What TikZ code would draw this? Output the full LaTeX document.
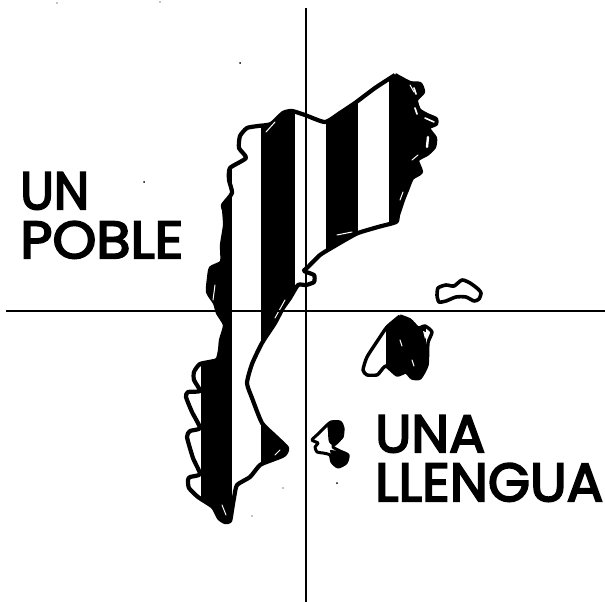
\documentclass[tikz,border=0pt]{standalone}
\usepackage{fontspec}
\setmainfont{Poppins}[FakeBold=3.5]
\usepackage{graphicx}
\def\mainland{(395,75) (410,83) (420,84) (423,92) (416,100) (419,110) (427,115) (436,119) (436,124) (428,128) (435,138) (434,147) (427,154) (417,160) (421,172) (412,178) (407,190) (403,200) (398,215) (396,222) (378,227) (358,233) (345,240) (333,247) (320,255) (308,267) (304,271) (314,275) (314,282) (306,285) (298,285) (290,298) (283,308) (275,323) (262,343) (252,364) (247,383) (252,398) (262,423) (275,436) (287,448) (284,455) (272,460) (260,465) (250,477) (237,485) (234,498) (232,510) (230,521) (225,522) (219,518) (213,507) (198,497) (189,488) (188,480) (190,477) (200,474) (193,458) (187,437) (190,431) (200,428) (192,412) (186,397) (188,392) (200,391) (194,380) (194,372) (200,364) (217,360) (220,350) (221,340) (225,325) (218,313) (215,303) (208,292) (209,278) (211,268) (222,262) (222,245) (225,225) (224,210) (223,205) (232,193) (229,180) (230,168) (246,158) (239,148) (240,136) (247,128) (258,126) (271,124) (283,113) (292,111) (305,115) (325,122) (340,113) (355,103) (375,88) (395,75)}
\def\mallorca{(400,316) (410,320) (418,328) (425,326) (432,332) (428,343) (427,365) (420,378) (412,378) (406,372) (397,375) (386,366) (380,372) (377,375) (367,375) (363,370) (367,357) (378,340) (387,327) (400,316)}
\def\menorca{(437,296) (438,288) (446,285) (454,286) (462,280) (470,283) (478,289) (481,293) (479,299) (474,301) (466,297) (456,297) (446,301) (439,302) (437,296)}
\def\ibiza{(325,427) (331,422) (340,422) (343,428) (342,437) (335,442) (333,447) (340,451) (348,455) (346,463) (338,467) (332,462) (330,455) (323,453) (317,452) (315,447) (318,443) (312,440) (318,434) (325,427)}
\tikzset{
  coast/.style={draw=black,line width=4.2pt,line join=round},
  axis/.style={draw=black,line width=2.2pt},
  band/.style={fill=black},
  fleck/.style={draw=white,line width=1pt,line cap=round},
  speck/.style={fill=black,inner sep=0pt,minimum size=2pt,circle},
  word/.style={anchor=north west,inner sep=0pt,text=black}
}
\begin{document}
\begin{tikzpicture}[x=1pt,y=-1pt]
\useasboundingbox (0,0) rectangle (605,602);
\fill[white] (0,0) rectangle (605,602);
% mainland stripes
\begin{scope}
\clip plot[smooth,tension=.35] coordinates {\mainland};
\fill[band] (201,60) rectangle (232,530);
\fill[band] (261,60) rectangle (295,530);
\fill[band] (326,60) rectangle (358,530);
\fill[band] (389,60) rectangle (445,530);
\end{scope}
\draw[coast] plot[smooth,tension=.35] coordinates {\mainland};
% Balearics
\begin{scope}
\clip plot[smooth,tension=.35] coordinates {\mallorca};
\fill[band] (386,300) rectangle (426,390);
\end{scope}
\draw[coast,line width=3.4pt] plot[smooth,tension=.35] coordinates {\mallorca};
\fill[white] (423,331) -- (428,333) -- (425,339) -- cycle;
\draw[coast,line width=3.6pt] plot[smooth,tension=.4] coordinates {\menorca};
\fill[black] plot[smooth,tension=.4] coordinates {(327,424) (340,422) (344,436) (335,446) (329,442) (328,432)};
\fill[black] plot[smooth,tension=.4] coordinates {(330,450) (345,452) (349,458) (340,468) (332,464)};
\draw[coast,line width=3pt] plot[smooth,tension=.4] coordinates {\ibiza};
% light flecks inside the dark bands
\draw[fleck] (215,285) -- (213,300);
\draw[fleck] (266,132) -- (275,122);
\draw[fleck] (285,300) -- (275,318);
\draw[fleck] (337,235) -- (352,232);
\draw[fleck] (410,85) -- (414,92);
\draw[fleck,line width=1.6pt] (414,88) -- (416,94);
\draw[fleck,line width=1.6pt] (415,108) -- (417,114);
\draw[fleck,line width=1.6pt] (425,118) -- (434,122);
\draw[fleck,line width=2.4pt] (428,137) -- (427,147);
\draw[fleck] (412,160) -- (418,155);
\draw[fleck] (400,200) -- (403,192);
\draw[fleck] (222,505) -- (226,515);
\draw[fleck] (275,455) -- (280,450);
\draw[fleck] (400,340) -- (402,346);
\draw[fleck] (412,360) -- (414,366);
% axes
\coordinate (vt) at (306,8);
\coordinate (vb) at (306,602);
\coordinate (hl) at (6,311);
\coordinate (hr) at (605,311);
\draw[axis] (vt) -- (vb);
\draw[axis] (hl) -- (hr);
% words
\node[word] (un) at (20,172) {\resizebox{69pt}{37pt}{UN}};
\node[word] (poble) at (20,221) {\resizebox{163pt}{37pt}{POBLE}};
\node[word] (una) at (375,415) {\resizebox{110pt}{37pt}{UNA}};
\node[word] (llengua) at (375,463) {\resizebox{228pt}{38pt}{LLENGUA}};
% specks
\node[speck] (s1) at (240,63) {};
\node[speck] (s2) at (144,182) {};
\node[speck] (s3) at (337,483) {};
\node[speck,minimum size=1.2pt] (s4) at (283,488) {};
\node[speck,minimum size=1.2pt] (s5) at (252,516) {};
\node[speck,minimum size=1.2pt] (s6) at (57,3) {};
\node[speck,minimum size=1.2pt] (s7) at (160,2) {};
\end{tikzpicture}
\end{document}
